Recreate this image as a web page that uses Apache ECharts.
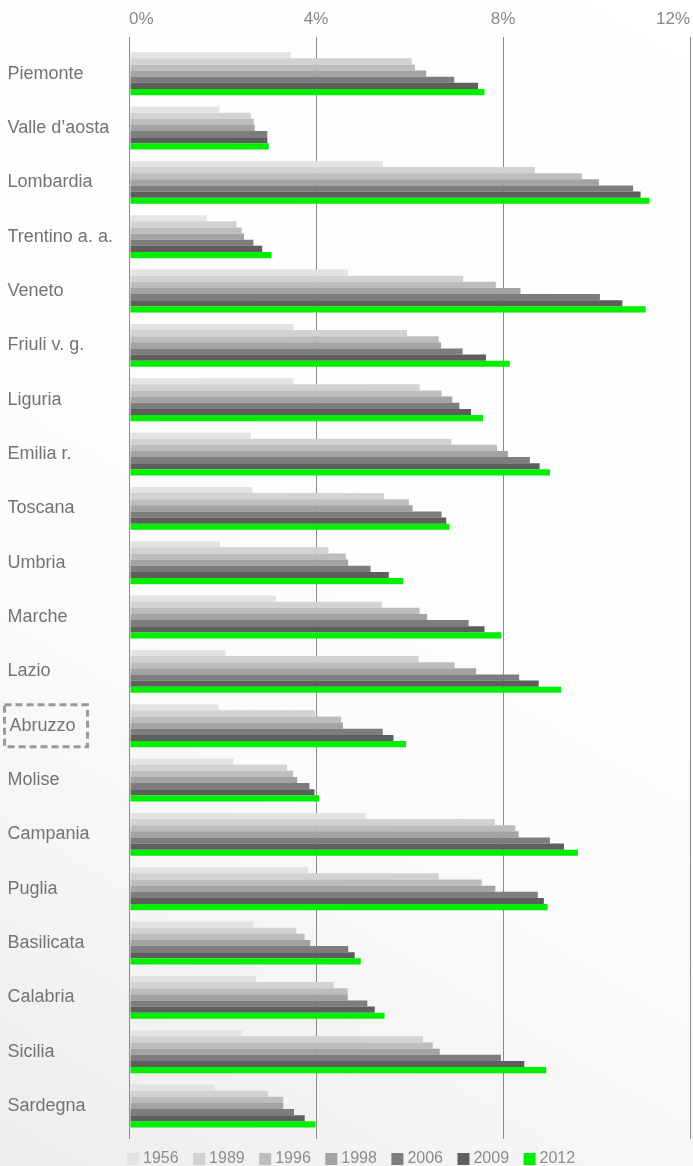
<!DOCTYPE html>
<html>
<head>
<meta charset="utf-8">
<script src="https://cdn.jsdelivr.net/npm/echarts@6/dist/echarts.min.js"></script>
<style>
  html, body { margin: 0; padding: 0; }
  #chart { width: 693px; height: 1166px; }
</style>
</head>
<body>
<div id="chart"></div>
<script>
// regioni
var regions = ['Piemonte', 'Valle d’aosta', 'Lombardia', 'Trentino a. a.', 'Veneto', 'Friuli v. g.',
  'Liguria', 'Emilia r.', 'Toscana', 'Umbria', 'Marche', 'Lazio', 'Abruzzo', 'Molise',
  'Campania', 'Puglia', 'Basilicata', 'Calabria', 'Sicilia', 'Sardegna'];

var years = ['1956', '1989', '1996', '1998', '2006', '2009', '2012'];
var colors = ['#e3e3e3', '#d2d2d2', '#bdbdbd', '#a3a3a3', '#7d7d7d', '#5e5e5e', '#00ee00'];

// valori in %
var y1956 = [3.43, 1.90, 5.40, 1.63, 4.66, 3.49, 3.49, 2.58, 2.61, 1.92, 3.11, 2.03, 1.88, 2.20, 5.03, 3.80, 2.64, 2.68, 2.38, 1.81];
var y1989 = [6.02, 2.58, 8.66, 2.27, 7.12, 5.92, 6.19, 6.87, 5.43, 4.24, 5.38, 6.17, 3.95, 3.35, 7.80, 6.60, 3.55, 4.35, 6.26, 2.94];
var y1996 = [6.09, 2.64, 9.66, 2.38, 7.82, 6.60, 6.66, 7.85, 5.96, 4.61, 6.19, 6.94, 4.51, 3.48, 8.24, 7.52, 3.73, 4.65, 6.47, 3.27];
var y1998 = [6.33, 2.66, 10.03, 2.43, 8.35, 6.65, 6.89, 8.08, 6.04, 4.66, 6.35, 7.40, 4.55, 3.57, 8.31, 7.81, 3.85, 4.65, 6.62, 3.27];
var y2006 = [6.93, 2.93, 10.76, 2.63, 10.05, 7.11, 7.04, 8.55, 6.66, 5.14, 7.24, 8.32, 5.40, 3.83, 8.98, 8.72, 4.66, 5.07, 7.93, 3.50];
var y2009 = [7.44, 2.93, 10.92, 2.82, 10.53, 7.61, 7.29, 8.76, 6.76, 5.53, 7.58, 8.74, 5.63, 3.94, 9.28, 8.85, 4.80, 5.23, 8.43, 3.73];
var y2012 = [7.58, 2.96, 11.11, 3.02, 11.03, 8.12, 7.55, 8.98, 6.83, 5.84, 7.94, 9.22, 5.90, 4.04, 9.58, 8.93, 4.93, 5.44, 8.90, 3.96];

var values = [y1956, y1989, y1996, y1998, y2006, y2009, y2012];
var highlighted = 'Abruzzo';

var font = 'Liberation Sans, Arial, sans-serif';

var series = years.map(function (y, i) {
  return {
    name: y,
    type: 'bar',
    xAxisIndex: 0,
    yAxisIndex: 0,
    barGap: '0%',
    barCategoryGap: '21%',
    itemStyle: { color: colors[i] },
    silent: true,
    data: values[i]
  };
});

var option = {
  animation: false,
  backgroundColor: {
    type: 'linear', x: 1, y: 0, x2: 0, y2: 1,
    colorStops: [
      { offset: 0, color: '#ffffff' },
      { offset: 0.6, color: '#fcfcfc' },
      { offset: 1, color: '#ededed' }
    ]
  },
  color: colors,
  legend: {
    left: 127,
    top: 1151,
    padding: 0,
    icon: 'rect',
    itemWidth: 12,
    itemHeight: 12,
    itemGap: 14.5,
    textStyle: { color: '#8c8c8c', fontSize: 16, fontFamily: font, padding: [0, 0, 0, -1] },
    data: years
  },
  grid: [
    { left: 129, right: 2, top: 46.5, bottom: 32.8 },
    { left: 129, right: 2, top: 37, bottom: 27 }
  ],
  xAxis: [
    { gridIndex: 0, type: 'value', min: 0, max: 12, show: false },
    {
      gridIndex: 1, type: 'value', min: 0, max: 12, interval: 4, position: 'top',
      axisLine: { show: false },
      axisTick: { show: false },
      axisLabel: {
        formatter: '{value}%',
        color: '#888',
        fontSize: 17,
        fontFamily: font,
        margin: 9,
        alignMinLabel: 'left',
        alignMaxLabel: 'right'
      },
      splitLine: { show: true, lineStyle: { color: '#8a8a8a', width: 1 } }
    }
  ],
  yAxis: [
    {
      gridIndex: 0, type: 'category', inverse: true, data: regions,
      axisLine: { show: false },
      axisTick: { show: false },
      axisLabel: {
        align: 'left',
        margin: 126,
        formatter: function (v) {
          return v === highlighted ? '{box|' + v + '}' : '{n|' + v + '}';
        },
        rich: {
          n: { fontSize: 18, color: '#737373', fontFamily: font, padding: [0, 0, 0, 3] },
          box: {
            fontSize: 18, color: '#737373', fontFamily: font,
            padding: [12, 12, 12, 5],
            borderColor: '#999',
            borderWidth: 3,
            borderType: [7, 4]
          }
        }
      }
    },
    { gridIndex: 1, type: 'value', show: false }
  ],
  series: series
};

var myChart = echarts.init(document.getElementById('chart'));
myChart.setOption(option);
</script>
</body>
</html>
